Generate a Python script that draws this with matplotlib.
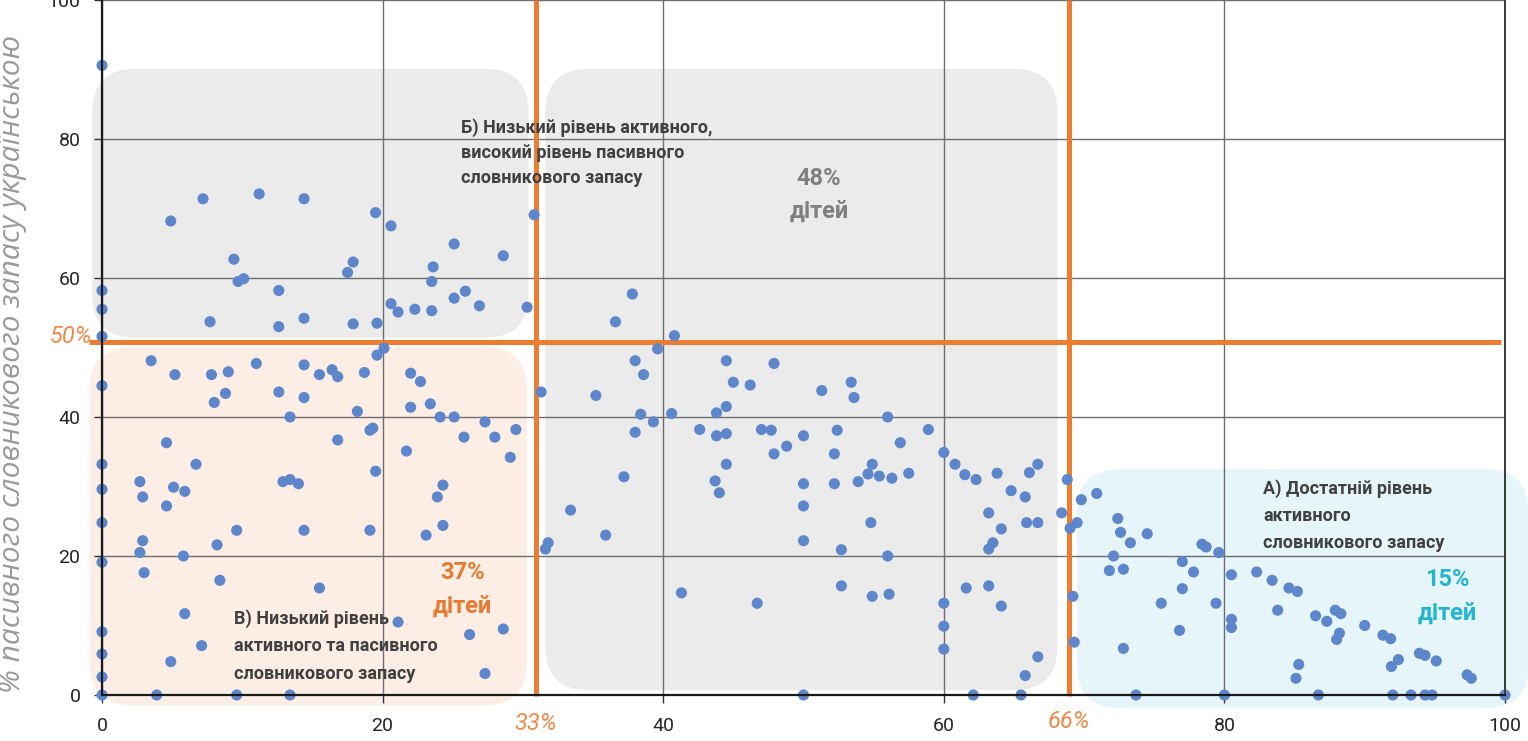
import matplotlib
matplotlib.use("Agg")
import matplotlib.pyplot as plt
import matplotlib.transforms as mtransforms
from matplotlib.patches import FancyBboxPatch

plt.rcParams['font.family'] = ['Roboto', 'DejaVu Sans']

# Share of the active vocabulary (x, %) and the passive vocabulary (y, %) per child
active_pct = [
    0, 4.9, 7.2, 11.2, 14.4, 19.5, 20.6, 9.4, 17.9, 17.5, 23.6, 23.5, 9.7, 10.1, 12.6,
    0, 0, 7.7, 12.6, 14.4, 17.9, 19.6, 20.6, 21.1, 22.3, 23.5, 0, 20.1, 19.6,
    30.8, 25.1, 28.6, 25.9, 25.1, 26.9, 30.3, 37.8, 36.6, 40.8, 39.6,
    3.5, 5.2, 7.8, 9.0, 11.0, 14.4, 15.5, 16.4, 16.8, 18.7, 22.0, 22.7, 0, 12.6, 14.4,
    8.8, 8.0, 18.2, 22.0, 23.4, 24.1, 13.4, 4.6, 16.8, 19.1, 19.3, 21.7, 0, 6.7, 19.5,
    2.7, 2.9, 5.1, 5.9, 4.6, 0, 12.9, 13.4, 14.0, 23.9, 24.3, 0, 9.6, 14.4, 19.1,
    23.1, 24.3, 2.9, 2.7, 8.2, 5.8, 0, 3.0, 8.4, 15.5, 5.9, 21.1, 0, 7.1, 0,
    4.9, 0, 0, 3.9, 9.6, 13.4,
    25.1, 27.3, 25.8, 28.0, 29.5, 29.1, 31.3, 35.2, 38.0, 38.6, 38.4, 38.0, 39.3, 40.6,
    37.2, 33.4, 35.9, 31.8, 31.6, 44.5, 45.0, 46.2, 47.9, 43.8, 44.5, 42.6, 43.8, 44.5,
    47.0, 47.7, 50.0, 48.8, 47.9, 44.5, 43.7, 44.0, 50.0, 50.0, 50.0, 41.3, 46.7, 28.6,
    26.2, 27.3, 50.0,
    51.3, 53.4, 53.6, 56.0, 52.4, 52.2, 56.9, 58.9, 60.0, 60.8, 61.5, 62.3, 63.8, 66.1,
    66.7, 64.8, 65.8, 52.2, 53.9, 54.6, 54.9, 55.4, 56.3, 57.5, 54.8, 56.0, 52.7, 63.2,
    64.1, 63.5, 63.2, 65.9, 66.7, 52.7, 54.9, 56.1, 61.6, 63.2, 64.1, 60.0, 60.0, 60.0,
    66.7, 65.8, 62.1, 65.5, 68.8, 68.4, 69.0, 69.5, 69.8, 70.9, 69.2, 69.3, 72.4, 72.6,
    73.3, 74.5, 72.1, 71.8, 72.8, 72.8, 75.5, 73.7,
    77.0, 77.0, 76.8, 77.8, 78.4, 78.7, 79.6, 79.4, 80.5, 80.5, 80.5, 80.0, 82.3, 83.4,
    83.8, 84.6, 85.2, 85.3, 85.1, 86.5, 87.3, 87.9, 88.3, 88.2, 88.0, 86.7, 90.0, 91.3,
    91.85, 92.4, 91.9, 92.0, 93.3, 93.9, 94.3, 95.1, 94.3, 94.8, 97.3, 97.6, 100,
]
passive_pct = [
    90.6, 68.2, 71.4, 72.1, 71.4, 69.4, 67.5, 62.7, 62.3, 60.8, 61.6, 59.5, 59.5, 59.9, 58.2,
    58.2, 55.5, 53.7, 53.0, 54.2, 53.4, 53.5, 56.3, 55.1, 55.5, 55.3, 51.6, 49.9, 48.9,
    69.1, 64.9, 63.2, 58.1, 57.1, 56.0, 55.8, 57.7, 53.7, 51.7, 49.8,
    48.1, 46.1, 46.1, 46.5, 47.7, 47.5, 46.1, 46.8, 45.8, 46.4, 46.3, 45.1, 44.5, 43.6, 42.8,
    43.4, 42.1, 40.8, 41.4, 41.9, 40.0, 40.0, 36.3, 36.7, 38.1, 38.4, 35.1, 33.2, 33.2, 32.2,
    30.7, 28.5, 29.9, 29.3, 27.2, 29.6, 30.7, 31.0, 30.4, 28.5, 30.2, 24.8, 23.7, 23.7, 23.7,
    23.0, 24.4, 22.2, 20.5, 21.6, 20.0, 19.1, 17.6, 16.5, 15.4, 11.7, 10.5, 9.1, 7.1, 5.9,
    4.8, 2.6, 0, 0, 0, 0,
    40.0, 39.3, 37.1, 37.1, 38.2, 34.2, 43.6, 43.1, 48.1, 46.1, 40.4, 37.8, 39.3, 40.5,
    31.4, 26.6, 23.0, 21.9, 21.0, 48.1, 45.0, 44.6, 47.7, 40.6, 41.5, 38.2, 37.3, 37.6,
    38.2, 38.1, 37.3, 35.8, 34.7, 33.2, 30.8, 29.1, 30.4, 27.2, 22.2, 14.7, 13.2, 9.5,
    8.7, 3.1, 0,
    43.8, 45.0, 42.8, 40.0, 38.1, 34.7, 36.3, 38.2, 34.9, 33.2, 31.7, 31.0, 31.9, 32.0,
    33.2, 29.4, 28.5, 30.4, 30.7, 31.8, 33.2, 31.5, 31.2, 31.9, 24.8, 20.0, 20.9, 26.2,
    23.9, 21.9, 21.0, 24.8, 24.8, 15.7, 14.2, 14.5, 15.4, 15.7, 12.8, 13.2, 9.9, 6.6,
    5.5, 2.8, 0, 0, 31.0, 26.2, 24.0, 24.8, 28.1, 29.0, 14.2, 7.6, 25.4, 23.4,
    21.9, 23.2, 20.0, 17.9, 18.1, 6.7, 13.2, 0,
    19.2, 15.3, 9.3, 17.7, 21.7, 21.3, 20.5, 13.2, 17.3, 10.9, 9.7, 0, 17.7, 16.5,
    12.2, 15.4, 14.9, 4.4, 2.4, 11.4, 10.6, 12.2, 11.7, 8.9, 8.0, 0, 10.0, 8.6,
    8.1, 5.1, 4.1, 0, 0, 6.0, 5.7, 4.9, 0, 0, 2.9, 2.4, 0,
]

ticks = [0, 20, 40, 60, 80, 100]

# Group boundaries and their captions
active_cut_low, active_cut_high = 30.9, 68.9
passive_cut = 50.8
cut_labels = ["33%", "66%", "50%"]

group_b = "Б) Низький рівень активного,\nвисокий рівень пасивного\nсловникового запасу"
group_v = "В) Низький рівень\nактивного та пасивного\nсловникового запасу"
group_a = "А) Достатній рівень\nактивного\nсловникового запасу"
share_b, share_v, share_a = "48%\nдітей", "37%\nдітей", "15%\nдітей"
y_title = "% пасивного словникового запасу українською"

W, H = 1528, 741
fig = plt.figure(figsize=(W / 100, H / 100), dpi=100)
ax = fig.add_axes([102 / W, 46 / H, 1403 / W, 695 / H])
ax.set_xlim(0, 100)
ax.set_ylim(0, 100)

ORANGE = '#ED7D31'
TEXT_DARK = '#404040'

# Background group panels (rounded, allowed to spill past the axes)
ax_w_px, ax_h_px = 1403, 695
aspect = (ax_w_px / 100) / (ax_h_px / 100)
radius = 3.1
panels = [
    ((-0.7, 51.4), 31.1, 38.7, '#EBEBEB'),
    ((31.6, 0.7), 36.5, 89.4, '#EBEBEB'),
    ((-0.9, -1.5), 31.2, 51.6, '#FCEEE5'),
    ((69.5, -1.9), 32.2, 34.4, '#E6F5FA'),
]
for (x0, y0), w, h, col in panels:
    p = FancyBboxPatch((x0, y0), w, h,
                       boxstyle=f"round,pad=0,rounding_size={radius}",
                       mutation_aspect=aspect, facecolor=col, edgecolor='none',
                       zorder=0.2, clip_on=False)
    ax.add_patch(p)

# Grid and axes
ax.set_axisbelow(True)
ax.set_xticks(ticks)
ax.set_yticks(ticks)
ax.grid(True, color='#6E6E6E', linewidth=1.0)
for side in ['left', 'bottom']:
    ax.spines[side].set_color('#1A1A1A')
    ax.spines[side].set_linewidth(1.6)
    ax.spines[side].set_zorder(3)
ax.spines['right'].set_color('#3A3A3A')
ax.spines['right'].set_linewidth(1.4)
ax.spines['top'].set_visible(False)
ax.tick_params(axis='both', direction='out', length=5.5, width=1.0, color='#333333',
               labelsize=14, labelcolor='#262626')
ax.tick_params(axis='y', pad=10)
ax.tick_params(axis='x', pad=10)

# Cut-off lines
ax.plot([-0.9, 99.7], [passive_cut, passive_cut], color=ORANGE, lw=3.6,
        zorder=1.5, clip_on=False, solid_capstyle='butt')
for xc in (active_cut_low, active_cut_high):
    ax.plot([xc, xc], [-0.2, 100], color=ORANGE, lw=3.6, zorder=1.5,
            clip_on=False, solid_capstyle='butt')

# Children
ax.scatter(active_pct, passive_pct, s=64, color='#5E86CB', edgecolors='none',
           zorder=2, clip_on=False)

# Cut-off captions
xblend = mtransforms.blended_transform_factory(ax.transData, ax.transAxes)
yblend = mtransforms.blended_transform_factory(ax.transAxes, ax.transData)
ax.text(active_cut_low, -28 / 695, cut_labels[0], transform=xblend, ha='center',
        va='center', fontsize=17, style='italic', color='#EE8A4A')
ax.text(active_cut_high, -26 / 695, cut_labels[1], transform=xblend, ha='center',
        va='center', fontsize=17, style='italic', color='#EE8A4A')
ax.text(-10 / 1403, passive_cut + 0.8, cut_labels[2], transform=yblend, ha='right',
        va='center', fontsize=17, style='italic', color='#EE8A4A')

# Group descriptions
ax.text(25.6, 78.1, group_b, ha='left', va='center', fontsize=13, fontweight='bold',
        color=TEXT_DARK, linespacing=1.5, zorder=4)
ax.text(9.4, 7.05, group_v, ha='left', va='center', fontsize=13, fontweight='bold',
        color=TEXT_DARK, linespacing=1.65, zorder=4)
ax.text(82.75, 25.8, group_a, ha='left', va='center', fontsize=13, fontweight='bold',
        color=TEXT_DARK, linespacing=1.65, zorder=4)

ax.text(51.1, 71.9, share_b, ha='center', va='center', fontsize=17, fontweight='bold',
        color='#7F7F7F', linespacing=1.55, zorder=4)
ax.text(25.7, 15.2, share_v, ha='center', va='center', fontsize=17, fontweight='bold',
        color='#E67A30', linespacing=1.55, zorder=4)
ax.text(95.9, 14.2, share_a, ha='center', va='center', fontsize=17, fontweight='bold',
        color='#22B5CE', linespacing=1.55, zorder=4)

# Vertical axis title, sized to span the plot height
ylab = fig.text(13 / W, 1 - 364 / H, y_title, rotation=90, ha='center', va='center',
                fontsize=16, style='italic', fontweight='normal', color='#9A9A9A',
                family=['Open Sans', 'DejaVu Sans'])
fig.canvas.draw()
span = ylab.get_window_extent().height
ylab.set_fontsize(16 * 660 / span)

fig.savefig('out.png', dpi=100)
